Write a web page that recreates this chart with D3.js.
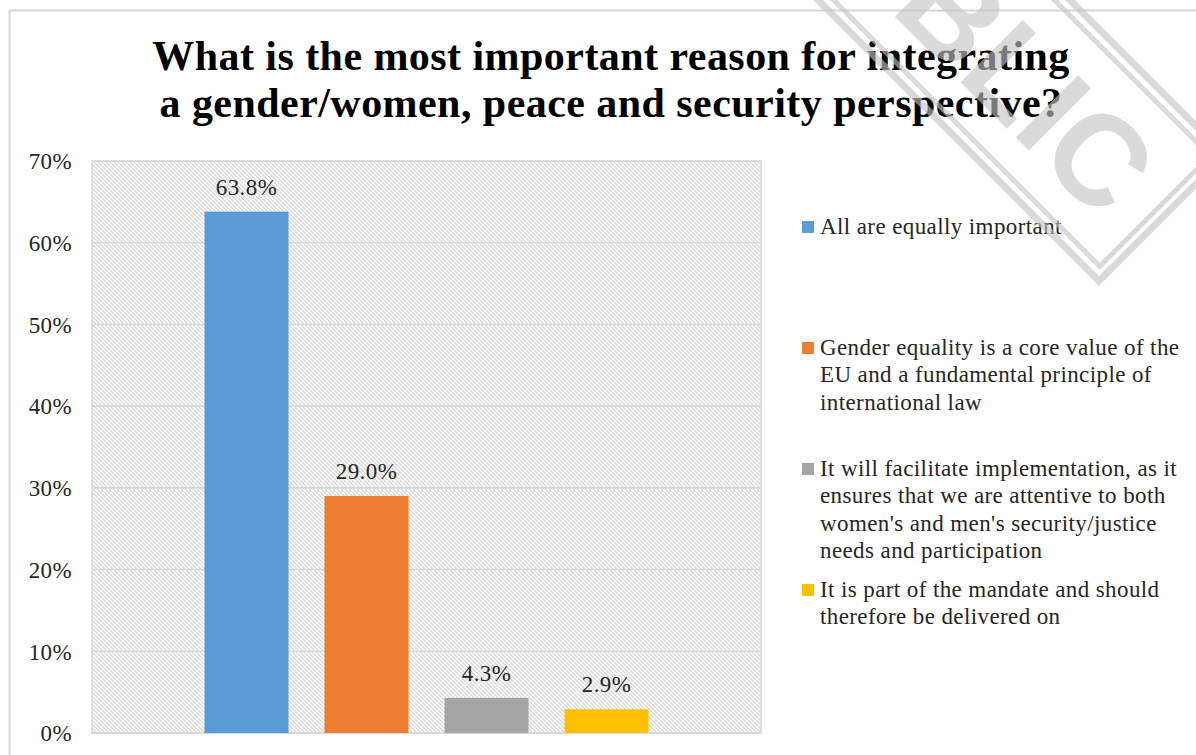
<!DOCTYPE html>
<html>
<head>
<meta charset="utf-8">
<script src="https://cdn.jsdelivr.net/npm/d3@7"></script>
<style>
  html, body { margin: 0; padding: 0; background: #fff; }
  svg { display: block; }
  .serif { font-family: "Liberation Serif", "Times New Roman", serif; }
  .stamp-text { font-family: "Liberation Sans", Arial, sans-serif; }
</style>
</head>
<body>
<svg id="chart" width="1196" height="755"></svg>
<script>
// Survey answers: one bar per answer option
const series = [
  "All are equally important",
  "Gender equality is a core value of the EU and a fundamental principle of international law",
  "It will facilitate implementation, as it ensures that we are attentive to both women's and men's security/justice needs and participation",
  "It is part of the mandate and should therefore be delivered on"
];
const values = [63.8, 29.0, 4.3, 2.9];
const valueLabels = ["63.8%", "29.0%", "4.3%", "2.9%"];
const colors = ["#5B9BD5", "#ED7D31", "#A5A5A5", "#FFC000"];
const yTicks = [0, 10, 20, 30, 40, 50, 60, 70];
const legendLines = [
  ["All are equally important"],
  ["Gender equality is a core value of the", "EU and a fundamental principle of", "international law"],
  ["It will facilitate implementation, as it", "ensures that we are attentive to both", "women's and men's security/justice", "needs and participation"],
  ["It is part of the mandate and should", "therefore be delivered on"]
];
const titleLines = [
  "What is the most important reason for integrating",
  "a gender/women, peace and security perspective?"
];

const svg = d3.select("#chart");
const W = 1196, H = 755;
const plot = { left: 92, right: 761, top: 161, bottom: 733 };

// Outer chart frame
svg.append("rect")
  .attr("x", 9.5).attr("y", 10.5)
  .attr("width", W + 20).attr("height", H + 20)
  .attr("fill", "#fff").attr("stroke", "#d6d6d6").attr("stroke-width", 2);

// Hatched plot background
const defs = svg.append("defs");
const pat = defs.append("pattern")
  .attr("id", "hatch").attr("patternUnits", "userSpaceOnUse")
  .attr("width", 4).attr("height", 4);
pat.append("rect").attr("width", 4).attr("height", 4).attr("fill", "#fff");
pat.append("path")
  .attr("d", "M-1,-1 L5,5 M-1,3 L1,5 M3,-1 L5,1")
  .attr("stroke", "#d2d2d2").attr("stroke-width", 1.1);

const x = d3.scaleBand()
  .domain(series)
  .range([plot.left, plot.right])
  .paddingInner(0.3)
  .paddingOuter(0.9375);

const y = d3.scaleLinear()
  .domain([0, 70])
  .range([plot.bottom, plot.top]);

svg.append("rect")
  .attr("x", plot.left).attr("y", plot.top)
  .attr("width", plot.right - plot.left).attr("height", plot.bottom - plot.top)
  .attr("fill", "url(#hatch)");

// Gridlines
svg.append("g")
  .selectAll("line")
  .data(yTicks)
  .join("line")
  .attr("x1", plot.left).attr("x2", plot.right)
  .attr("y1", d => y(d)).attr("y2", d => y(d))
  .attr("stroke", "#d9d9d9").attr("stroke-width", 1.6);

// Plot border
svg.append("rect")
  .attr("x", plot.left).attr("y", plot.top)
  .attr("width", plot.right - plot.left).attr("height", plot.bottom - plot.top)
  .attr("fill", "none").attr("stroke", "#d9d9d9").attr("stroke-width", 1.6);

// Y axis labels
const yAxis = d3.axisLeft(y)
  .tickValues(yTicks)
  .tickFormat(d => d + "%")
  .tickSize(0)
  .tickPadding(20);
const gy = svg.append("g")
  .attr("transform", `translate(${plot.left},0)`)
  .call(yAxis);
gy.select(".domain").remove();
gy.selectAll("text")
  .attr("class", "serif")
  .attr("font-family", null)
  .style("font-family", "'Liberation Serif', 'Times New Roman', serif")
  .style("font-size", "23px")
  .attr("letter-spacing", 0.4)
  .attr("fill", "#262626")
  .attr("dy", "0.34em");

// Bars
svg.append("g")
  .selectAll("rect")
  .data(series)
  .join("rect")
  .attr("x", d => x(d))
  .attr("width", x.bandwidth())
  .attr("y", (d, i) => y(values[i]))
  .attr("height", (d, i) => y(0) - y(values[i]))
  .attr("fill", (d, i) => colors[i]);

// Value labels
svg.append("g")
  .selectAll("text")
  .data(series)
  .join("text")
  .attr("class", "serif")
  .attr("x", d => x(d) + x.bandwidth() / 2)
  .attr("y", (d, i) => y(values[i]) - 17)
  .attr("text-anchor", "middle")
  .attr("font-size", 23)
  .attr("letter-spacing", 0.4)
  .attr("fill", "#262626")
  .text((d, i) => valueLabels[i]);

// Legend
const legend = svg.append("g").attr("transform", "translate(802,234)");
const item = legend.selectAll("g")
  .data(series)
  .join("g")
  .attr("transform", (d, i) => `translate(0,${i * 121})`);
item.append("rect")
  .attr("x", 0).attr("y", -13)
  .attr("width", 12).attr("height", 12)
  .attr("fill", (d, i) => colors[i]);
item.each(function (d, i) {
  const t = d3.select(this).append("text")
    .attr("class", "serif")
    .attr("font-size", 23)
    .attr("letter-spacing", 0.4)
    .attr("fill", "#262626");
  t.selectAll("tspan")
    .data(legendLines[i])
    .join("tspan")
    .attr("x", 18)
    .attr("y", (l, j) => j * 27.3)
    .text(l => l);
});

// Title
svg.append("g")
  .selectAll("text")
  .data(titleLines)
  .join("text")
  .attr("class", "serif")
  .attr("x", 611)
  .attr("y", (d, i) => 70 + i * 47)
  .attr("text-anchor", "middle")
  .attr("font-size", 42)
  .attr("letter-spacing", 0.45)
  .attr("font-weight", "bold")
  .attr("fill", "#000")
  .text(d => d);

// Classification stamp
const stamp = svg.append("g")
  .attr("transform", "rotate(45)")
  .attr("opacity", 0.62);
stamp.append("rect")
  .attr("x", 300).attr("y", -756.6)
  .attr("width", 675.8).attr("height", 178.2)
  .attr("fill", "none").attr("stroke", "#c4c4c4").attr("stroke-width", 7);
stamp.append("rect")
  .attr("x", 300).attr("y", -745.6)
  .attr("width", 665.9).attr("height", 156.2)
  .attr("fill", "none").attr("stroke", "#c4c4c4").attr("stroke-width", 5);
stamp.append("text")
  .attr("class", "stamp-text")
  .attr("x", 935).attr("y", -621)
  .attr("text-anchor", "end")
  .attr("font-weight", "bold")
  .attr("font-size", 128)
  .attr("fill", "#c4c4c4")
  .text("PUBLIC");
</script>
</body>
</html>
